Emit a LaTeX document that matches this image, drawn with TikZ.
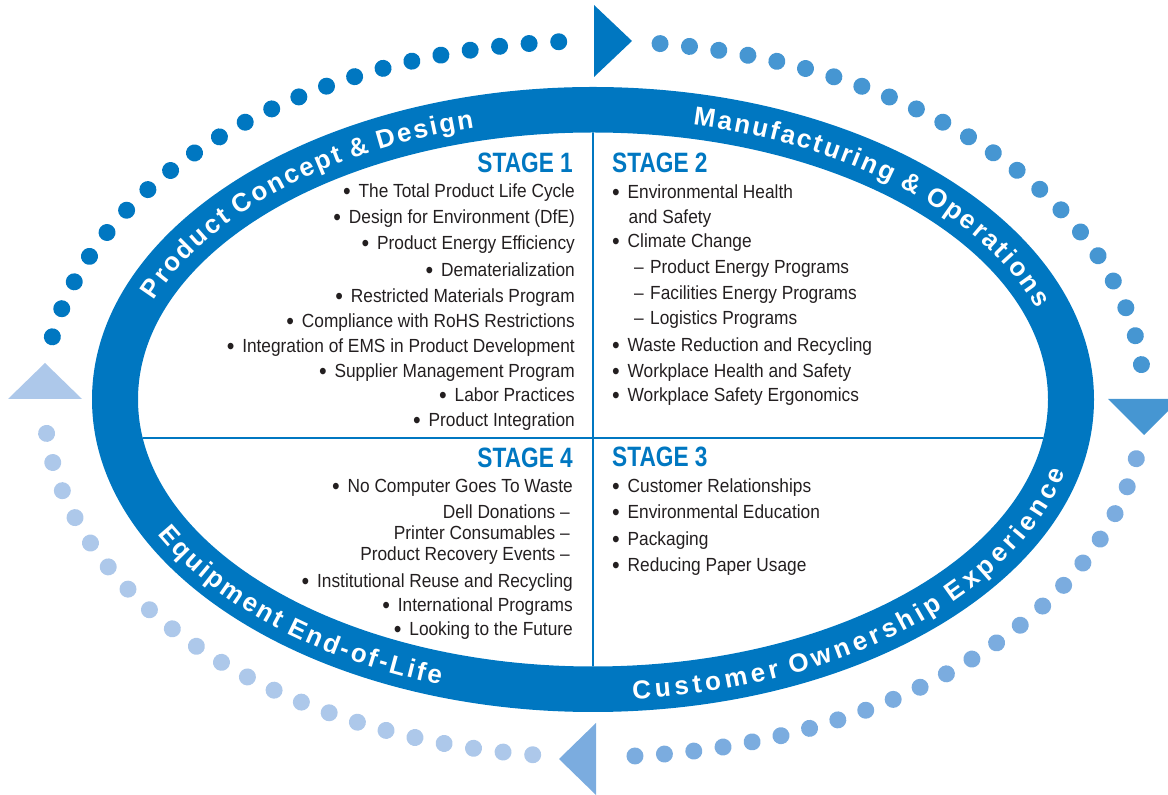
\documentclass[tikz,border=0pt]{standalone}
\usepackage{fontspec}
\setmainfont{Liberation Sans}
\usetikzlibrary{decorations.text,decorations.markings}
\newfontfamily\bodyfont[FakeStretch=0.91]{Liberation Sans}
\newfontfamily\headfont[FakeStretch=0.81]{Liberation Sans}
\newfontfamily\ringfont{Liberation Sans}
\definecolor{ringblue}{HTML}{0077C1}
\definecolor{dotA}{HTML}{0077C1}
\definecolor{dotB}{HTML}{4696D2}
\definecolor{dotC}{HTML}{7BACDF}
\definecolor{dotD}{HTML}{ADC8EA}
\definecolor{ink}{HTML}{231F20}
\newcommand\bul{\makebox[15.5pt][l]{\raisebox{-1.2pt}{\fontsize{24}{24}\selectfont\textbullet}}}
\newcommand\dsh{\hspace*{22pt}\makebox[16pt][l]{–}}
\newcommand\ind{\hspace*{16.5pt}}
\newcommand\rsz{\ringfont\bfseries\fontsize{26}{26}\selectfont\color{white}}
\newcommand\gA{\kern2.25pt}
\newcommand\gB{\kern2.3pt}
\newcommand\gC{\kern4.0pt}
\newcommand\gD{\kern2.5pt}
\tikzset{
  item/.style={font=\bodyfont\fontsize{19}{19}\selectfont, text=ink, inner sep=0pt},
  ritem/.style={item, anchor=base east},
  litem/.style={item, anchor=base west},
  head/.style={font=\headfont\bfseries\fontsize{28}{28}\selectfont, text=ringblue, inner sep=0pt},
  divider/.style={draw=ringblue, line width=1.6pt},
  dotrow/.style 2 args={decoration={markings, mark=between positions 0 and 1 step #2 with {\fill[#1] (0,0) circle (8.5pt);}}, decorate},
  ringtext/.style={decorate, decoration={text along path, text={#1}, text align=left}}
}
\begin{document}
\begin{tikzpicture}[x=1pt,y=1pt]
\useasboundingbox (0,0) rectangle (1168,795);
\coordinate (C) at (593,395.5);
\coordinate (D) at (594,396);
% ring
\fill[ringblue, even odd rule] (C) ellipse [x radius=501pt, y radius=312.5pt] (C) ellipse [x radius=455pt, y radius=267pt];
\begin{scope}
\clip (C) ellipse [x radius=455pt, y radius=267pt];
\draw[divider] (593,0) -- (593,795);
\draw[divider] (0,357) -- (1168,357);
\end{scope}
% dots
\path[dotrow={dotA}{0.04755}] (D) ++(170:550pt and 358pt) arc[start angle=170, end angle=93.6, x radius=550pt, y radius=358pt];
\path[dotrow={dotB}{0.04755}] (D) ++(83.1:550pt and 358pt) arc[start angle=83.1, end angle=5.4, x radius=550pt, y radius=358pt];
\path[dotrow={dotC}{0.04755}] (D) ++(-9.6:550pt and 358pt) arc[start angle=-9.6, end angle=-85.8, x radius=550pt, y radius=358pt];
\path[dotrow={dotD}{0.04755}] (D) ++(263.6:550pt and 358pt) arc[start angle=263.6, end angle=185.4, x radius=550pt, y radius=358pt];
% arrows
\fill[dotA] (594,790) -- (594,718) -- (632,754) -- cycle;
\fill[dotB] (1108,396) -- (1180,396) -- (1144,360) -- cycle;
\fill[dotC] (559,36) -- (596,72) -- (596,0) -- cycle;
\fill[dotD] (45,432) -- (8,396) -- (82,396) -- cycle;
% ring texts
\path[ringtext={|\rsz|{P\gA}{r\gA}{o\gA}{d\gA}{u\gA}{c\gA}{t\gA} {C\gA}{o\gA}{n\gA}{c\gA}{e\gA}{p\gA}{t\gA} {\&\gA} {D\gA}{e\gA}{s\gA}{i\gA}{g\gA}{n}}] (C) ++(159.4:469pt and 281pt) arc[start angle=159.4, end angle=60, x radius=469pt, y radius=281pt];
\path[ringtext={|\rsz|{M\gB}{a\gB}{n\gB}{u\gB}{f\gB}{a\gB}{c\gB}{t\gB}{u\gB}{r\gB}{i\gB}{n\gB}{g\gB} {\&\gB} {O\gB}{p\gB}{e\gB}{r\gB}{a\gB}{t\gB}{i\gB}{o\gB}{n\gB}{s}}] (C) ++(77.7:469pt and 281pt) arc[start angle=77.7, end angle=-20, x radius=469pt, y radius=281pt];
\path[ringtext={|\rsz|{C\gC}{u\gC}{s\gC}{t\gC}{o\gC}{m\gC}{e\gC}{r\gC} {O\gC}{w\gC}{n\gC}{e\gC}{r\gC}{s\gC}{h\gC}{i\gC}{p\gC} {E\gC}{x\gC}{p\gC}{e\gC}{r\gC}{i\gC}{e\gC}{n\gC}{c\gC}{e}}] (C) ++(-85.3:487pt and 300.5pt) arc[start angle=-85.3, end angle=20, x radius=487pt, y radius=300.5pt];
\path[ringtext={|\rsz|{E\gD}{q\gD}{u\gD}{i\gD}{p\gD}{m\gD}{e\gD}{n\gD}{t\gD} {E\gD}{n\gD}{d\gD}{-\gD}{o\gD}{f\gD}{-\gD}{L\gD}{i\gD}{f\gD}{e}}] (C) ++(206.6:487pt and 300.5pt) arc[start angle=206.6, end angle=290, x radius=487pt, y radius=300.5pt];
% stage 1
\node[head, anchor=base east] (s1) at (573,622) {STAGE 1};
\node[ritem] (s1a) at (575,597) {\bul The Total Product Life Cycle};
\node[ritem] (s1b) at (575,571) {\bul Design for Environment (DfE)};
\node[ritem] (s1c) at (575,545) {\bul Product Energy Efficiency};
\node[ritem] (s1d) at (575,518) {\bul Dematerialization};
\node[ritem] (s1e) at (575,492) {\bul Restricted Materials Program};
\node[ritem] (s1f) at (575,467) {\bul Compliance with RoHS Restrictions};
\node[ritem] (s1g) at (575,442) {\bul Integration of EMS in Product Development};
\node[ritem] (s1h) at (575,417) {\bul Supplier Management Program};
\node[ritem] (s1i) at (575,393) {\bul Labor Practices};
\node[ritem] (s1j) at (575,368) {\bul Product Integration};
% stage 2
\node[head, anchor=base west] (s2) at (612,622) {STAGE 2};
\node[litem] (s2a) at (612,596) {\bul Environmental Health};
\node[litem] (s2b) at (612,571) {\ind and Safety};
\node[litem] (s2c) at (612,547) {\bul Climate Change};
\node[litem] (s2d) at (612,521) {\dsh Product Energy Programs};
\node[litem] (s2e) at (612,495) {\dsh Facilities Energy Programs};
\node[litem] (s2f) at (612,470) {\dsh Logistics Programs};
\node[litem] (s2g) at (612,443) {\bul Waste Reduction and Recycling};
\node[litem] (s2h) at (612,417) {\bul Workplace Health and Safety};
\node[litem] (s2i) at (612,393) {\bul Workplace Safety Ergonomics};
% stage 4
\node[head, anchor=base east] (s4) at (573,327) {STAGE 4};
\node[ritem] (s4a) at (573,302) {\bul No Computer Goes To Waste};
\node[ritem] (s4b) at (570,276) {Dell Donations –};
\node[ritem] (s4c) at (570,255) {Printer Consumables –};
\node[ritem] (s4d) at (570,234) {Product Recovery Events –};
\node[ritem] (s4e) at (573,207) {\bul Institutional Reuse and Recycling};
\node[ritem] (s4f) at (573,183) {\bul International Programs};
\node[ritem] (s4g) at (573,159) {\bul Looking to the Future};
% stage 3
\node[head, anchor=base west] (s3) at (612,328) {STAGE 3};
\node[litem] (s3a) at (612,302) {\bul Customer Relationships};
\node[litem] (s3b) at (612,276) {\bul Environmental Education};
\node[litem] (s3c) at (612,249) {\bul Packaging};
\node[litem] (s3d) at (612,223) {\bul Reducing Paper Usage};
\end{tikzpicture}
\end{document}
